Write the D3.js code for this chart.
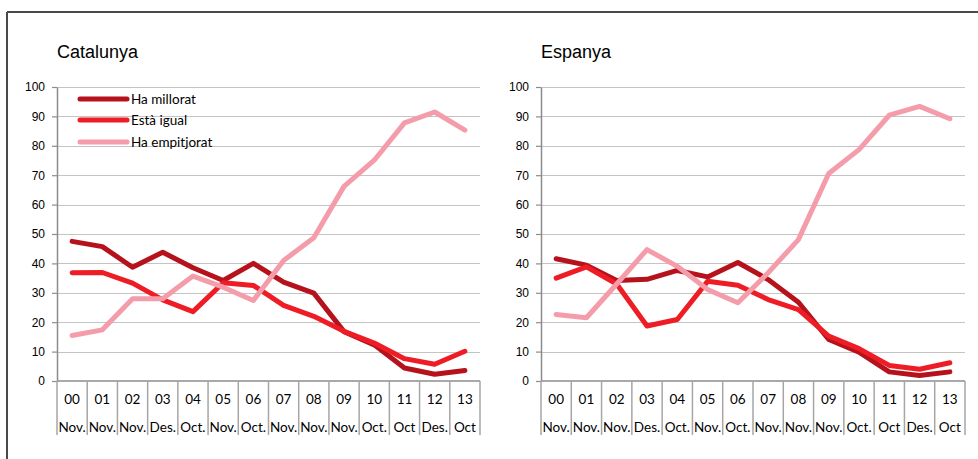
<!DOCTYPE html>
<html>
<head>
<meta charset="utf-8">
<script src="https://cdn.jsdelivr.net/npm/d3@7"></script>
<style>
  html, body { margin: 0; padding: 0; background: #fff; }
  svg { display: block; }
</style>
</head>
<body>
<svg id="chart" width="978" height="459"></svg>
<script>
// ---- data ----
const years = ["00","01","02","03","04","05","06","07","08","09","10","11","12","13"];
const months = ["Nov.","Nov.","Nov.","Des.","Oct.","Nov.","Oct.","Nov.","Nov.","Nov.","Oct.","Oct","Des.","Oct"];
const yTicks = [0,10,20,30,40,50,60,70,80,90,100];
const seriesNames = ["Ha millorat","Està igual","Ha empitjorat"];
const seriesColors = ["#b5121b","#ee1c25","#f59cab"];

const catMillorat = [47.5,45.7,38.7,43.8,38.5,34.2,40.0,33.6,29.9,16.8,12.3,4.4,2.3,3.6];
const catIgual    = [36.8,36.9,33.3,27.6,23.6,33.4,32.5,25.7,22.0,16.9,12.9,7.6,5.7,10.1];
const catEmpitj   = [15.5,17.4,28.0,28.0,35.7,31.9,27.4,41.0,48.7,66.2,75.1,87.8,91.5,85.3];

const espMillorat = [41.6,39.4,34.2,34.6,37.6,35.4,40.3,34.5,26.8,14.1,9.8,3.1,1.9,3.1];
const espIgual    = [35.0,38.8,33.0,18.7,20.9,33.9,32.6,27.7,24.3,15.3,11.0,5.3,4.0,6.2];
const espEmpitj   = [22.6,21.5,33.0,44.7,39.0,31.1,26.6,36.8,48.1,70.6,78.7,90.4,93.4,89.2];

const svg = d3.select("#chart");

// outer frame
svg.append("line").attr("x1",7).attr("x2",978).attr("y1",12).attr("y2",12)
  .attr("stroke","#4a4a4a").attr("stroke-width",2);
svg.append("line").attr("x1",7).attr("x2",7).attr("y1",12).attr("y2",459)
  .attr("stroke","#4a4a4a").attr("stroke-width",2);

function drawPanel(opts) {
  const { title, x0, x1, data, legend } = opts;
  const y = d3.scaleLinear().domain([0,100]).range([381,87]);
  const x = d3.scaleBand().domain(years).range([x0,x1]).padding(0);
  const g = svg.append("g");

  // title
  g.append("text").attr("x", x0).attr("y", 58)
    .attr("font-family","Liberation Sans, Arial, sans-serif")
    .attr("font-size",18).attr("fill","#000").text(title);

  // gridlines
  g.append("g").selectAll("line").data(yTicks.filter(d => d > 0)).join("line")
    .attr("x1", x0).attr("x2", x1)
    .attr("y1", d => Math.round(y(d)) + 0.5).attr("y2", d => Math.round(y(d)) + 0.5)
    .attr("stroke","#c4c4c4").attr("stroke-width",1.2);

  // y axis
  const yAxis = d3.axisLeft(y).tickValues(yTicks).tickSize(5).tickPadding(7).tickSizeOuter(0);
  const ya = g.append("g").attr("transform", `translate(${x0},0)`).call(yAxis);
  ya.select(".domain").attr("stroke","#8c8c8c").attr("stroke-width",1.5);
  ya.selectAll(".tick line").attr("stroke","#8c8c8c").attr("stroke-width",1.2);
  ya.selectAll(".tick text").attr("font-family","Liberation Sans, Arial, sans-serif")
    .attr("font-size",12).attr("fill","#000");

  // x axis baseline
  g.append("line").attr("x1", x0).attr("x2", x1).attr("y1", y(0)).attr("y2", y(0))
    .attr("stroke","#8c8c8c").attr("stroke-width",1.5);
  // category separators
  const bounds = years.map(d => x(d)).concat([x1]);
  g.append("g").selectAll("line").data(bounds).join("line")
    .attr("x1", d => d).attr("x2", d => d)
    .attr("y1", y(0)).attr("y2", y(0) + 54)
    .attr("stroke","#a6a6a6").attr("stroke-width",1.5);
  // labels
  g.append("g").selectAll("text").data(years).join("text")
    .attr("x", d => x(d) + x.bandwidth()/2).attr("y", 404)
    .attr("text-anchor","middle")
    .attr("font-family","Lato, Carlito, Calibri, sans-serif")
    .attr("font-size",13.5).attr("fill","#000").text(d => d);
  g.append("g").selectAll("text").data(months).join("text")
    .attr("x", (d,i) => x(years[i]) + x.bandwidth()/2).attr("y", 432)
    .attr("text-anchor","middle")
    .attr("font-family","Lato, Carlito, Calibri, sans-serif")
    .attr("font-size",13.5).attr("fill","#000").text(d => d);

  // lines
  const line = d3.line().x((d,i) => x(years[i]) + x.bandwidth()/2).y(d => y(d));
  data.forEach((s, k) => {
    g.append("path").datum(s).attr("d", line)
      .attr("fill","none").attr("stroke", seriesColors[k])
      .attr("stroke-width",5).attr("stroke-linejoin","round").attr("stroke-linecap","round");
  });

  // legend
  if (legend) {
    const ly = [99, 120, 142];
    seriesNames.forEach((n, k) => {
      g.append("line").attr("x1", 80).attr("x2", 127).attr("y1", ly[k]).attr("y2", ly[k])
        .attr("stroke", seriesColors[k]).attr("stroke-width",5).attr("stroke-linecap","round");
      g.append("text").attr("x", 131).attr("y", ly[k] + 5)
        .attr("font-family","Lato, Carlito, Calibri, sans-serif")
        .attr("font-size",13.5).attr("fill","#000").text(n);
    });
  }
}

drawPanel({ title: "Catalunya", x0: 57, x1: 480, data: [catMillorat, catIgual, catEmpitj], legend: true });
drawPanel({ title: "Espanya", x0: 541, x1: 965, data: [espMillorat, espIgual, espEmpitj], legend: false });
</script>
</body>
</html>
